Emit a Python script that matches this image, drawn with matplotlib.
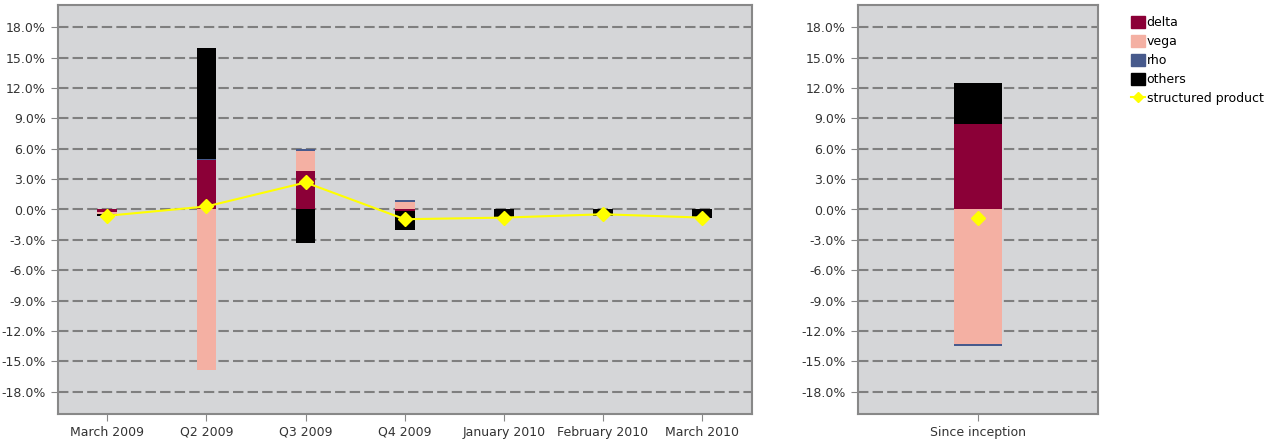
import numpy as np
from matplotlib import pyplot as plt
from matplotlib.patches import Patch
from matplotlib.lines import Line2D

plt.rcParams['font.family'] = ['DejaVu Sans']

periods = ['March 2009', 'Q2 2009', 'Q3 2009', 'Q4 2009', 'January 2010', 'February 2010', 'March 2010']
delta = [-0.25, 4.87, 3.78, -0.1, 0.0, 0.0, 0.0]
vega = [-0.15, -15.83, 2.0, 0.75, 0.0, 0.0, 0.0]
rho = [0.0, 0.1, 0.2, 0.15, 0.0, 0.0, 0.0]
others = [-0.2, 10.95, -3.3, -1.9, -0.72, -0.6, -0.85]
product = [-0.62, 0.3, 2.67, -0.96, -0.8, -0.47, -0.8]

since_label = ['Since inception']
since_delta = [8.42]
since_vega = [-13.3]
since_rho = [-0.15]
since_others = [4.05]
since_product = [-0.8]

series_names = ['delta', 'vega', 'rho', 'others']
colors = ['#8b0037', '#f4b0a3', '#475a8c', '#000000']
yticks = np.arange(-18, 19, 3)

fig = plt.figure(figsize=(12.71, 4.44), dpi=100)
ax1 = fig.add_axes([57.7/1271, 30/444, 694/1271, 409/444])
ax2 = fig.add_axes([857.7/1271, 30/444, 240/1271, 409/444])


def stacked(ax, labels, series, prod, line=True):
    x = np.arange(len(labels))
    pos = np.zeros(len(labels))
    neg = np.zeros(len(labels))
    for vals, c in zip(series, colors):
        vals = np.array(vals, dtype=float)
        bottom = np.where(vals >= 0, pos, neg)
        ax.bar(x, vals, 0.2, bottom=bottom, color=c, zorder=3)
        pos = pos + np.where(vals >= 0, vals, 0)
        neg = neg + np.where(vals < 0, vals, 0)
    ax.plot(x, prod, color='#ffff00', lw=1.5 if line else 0, marker='D', ms=7, zorder=4)
    ax.set_xticks(x)
    ax.set_xticklabels(labels, fontsize=9, color='#333333')
    ax.set_xlim(-0.5, len(labels) - 0.5)
    ax.set_ylim(-20.2, 20.2)
    ax.set_yticks(yticks)
    ax.set_yticklabels(['%.1f%%' % v for v in yticks], fontsize=9, color='#333333')
    ax.set_facecolor('#d5d6d8')
    ax.yaxis.grid(True, linestyle=(0, (5, 2)), color='#7f7f7f', lw=1.5, zorder=0)
    ax.set_axisbelow(True)
    for s in ax.spines.values():
        s.set_color('#888888')
        s.set_linewidth(1.5)
    ax.tick_params(axis='both', colors='#888888', length=5, labelcolor='#333333')


stacked(ax1, periods, [delta, vega, rho, others], product)
stacked(ax2, since_label, [since_delta, since_vega, since_rho, since_others], since_product, line=False)

handles = [Patch(color=c, label=n) for c, n in zip(colors, series_names)]
handles.append(Line2D([], [], color='#ffff00', marker='D', ms=5, lw=1.5, label='structured product'))
fig.legend(handles=handles, loc='upper left', bbox_to_anchor=(1126/1271, 1 - 11/444),
           frameon=False, fontsize=9, handlelength=1.1, handleheight=1.1,
           handletextpad=0.15, labelspacing=0.45, borderaxespad=0)

plt.savefig('out.png', dpi=100)
